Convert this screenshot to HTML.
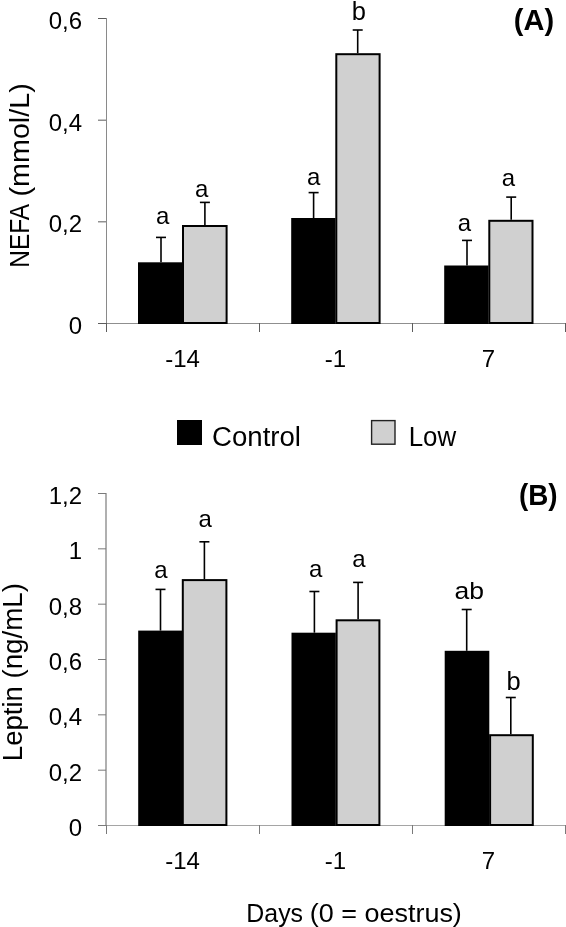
<!DOCTYPE html>
<html><head><meta charset="utf-8"><style>
html,body{margin:0;padding:0;background:#fff;}
svg{display:block;font-family:'Liberation Sans', sans-serif;will-change:transform;}
</style></head><body>
<svg width="566" height="927" viewBox="0 0 566 927" font-family="'Liberation Sans', sans-serif" fill="#000">
<rect width="566" height="927" fill="#fff"/>
<rect x="106" y="18" width="1" height="306" fill="#8a8a8a"/>
<rect x="98" y="323" width="468" height="1" fill="#8f8f8f"/>
<rect x="98" y="18.00" width="8" height="1" fill="#5c5c5c"/>
<text x="82" y="29.10" text-anchor="end" font-size="24">0,6</text>
<rect x="98" y="119.67" width="8" height="1" fill="#5c5c5c"/>
<text x="82" y="130.77" text-anchor="end" font-size="24">0,4</text>
<rect x="98" y="221.33" width="8" height="1" fill="#5c5c5c"/>
<text x="82" y="232.43" text-anchor="end" font-size="24">0,2</text>
<rect x="98" y="323.00" width="8" height="1" fill="#5c5c5c"/>
<text x="82" y="334.10" text-anchor="end" font-size="24">0</text>
<rect x="106" y="323" width="1" height="9" fill="#5c5c5c"/>
<rect x="259" y="323" width="1" height="9" fill="#5c5c5c"/>
<rect x="412" y="323" width="1" height="9" fill="#5c5c5c"/>
<rect x="565" y="323" width="1" height="9" fill="#5c5c5c"/>
<text x="182.5" y="366.70" text-anchor="middle" font-size="24">-14</text>
<text x="335.5" y="366.70" text-anchor="middle" font-size="24">-1</text>
<text x="488.5" y="366.70" text-anchor="middle" font-size="24">7</text>
<line x1="161.0" y1="262.3" x2="161.0" y2="237.4" stroke="#000" stroke-width="1.6"/>
<line x1="156.0" y1="237.4" x2="166.0" y2="237.4" stroke="#000" stroke-width="1.6"/>
<rect x="138" y="262.3" width="44" height="61.69999999999999" fill="#000"/>
<line x1="204.9" y1="225" x2="204.9" y2="202.4" stroke="#000" stroke-width="1.6"/>
<line x1="199.9" y1="202.4" x2="209.9" y2="202.4" stroke="#000" stroke-width="1.6"/>
<rect x="182" y="225" width="45.599999999999994" height="99" fill="#000"/>
<rect x="184" y="227" width="41.599999999999994" height="95" fill="#d0d0d0"/>
<line x1="313.6" y1="218" x2="313.6" y2="192.6" stroke="#000" stroke-width="1.6"/>
<line x1="308.6" y1="192.6" x2="318.6" y2="192.6" stroke="#000" stroke-width="1.6"/>
<rect x="291.2" y="218" width="44.30000000000001" height="106" fill="#000"/>
<line x1="357.7" y1="53.2" x2="357.7" y2="30.0" stroke="#000" stroke-width="1.6"/>
<line x1="352.7" y1="30.0" x2="362.7" y2="30.0" stroke="#000" stroke-width="1.6"/>
<rect x="335.3" y="53.2" width="45.30000000000001" height="270.8" fill="#000"/>
<rect x="337.3" y="55.2" width="41.30000000000001" height="266.8" fill="#d0d0d0"/>
<line x1="467.0" y1="265.5" x2="467.0" y2="240.4" stroke="#000" stroke-width="1.6"/>
<line x1="462.0" y1="240.4" x2="472.0" y2="240.4" stroke="#000" stroke-width="1.6"/>
<rect x="444.2" y="265.5" width="44.30000000000001" height="58.5" fill="#000"/>
<line x1="511.2" y1="219.8" x2="511.2" y2="197.1" stroke="#000" stroke-width="1.6"/>
<line x1="506.2" y1="197.1" x2="516.2" y2="197.1" stroke="#000" stroke-width="1.6"/>
<rect x="488.3" y="219.8" width="45.19999999999999" height="104.19999999999999" fill="#000"/>
<rect x="490.3" y="221.8" width="41.19999999999999" height="100.19999999999999" fill="#d0d0d0"/>
<text x="162.6" y="224.3" text-anchor="middle" font-size="24">a</text>
<text x="201.8" y="196.5" text-anchor="middle" font-size="24">a</text>
<text x="313.7" y="184.5" text-anchor="middle" font-size="24">a</text>
<text x="358.8" y="19.6" text-anchor="middle" font-size="25.5">b</text>
<text x="464.5" y="230.6" text-anchor="middle" font-size="24">a</text>
<text x="508.5" y="186.4" text-anchor="middle" font-size="24">a</text>
<text x="534" y="29.6" text-anchor="middle" font-size="29" font-weight="bold">(A)</text>
<g transform="translate(28.9,0) rotate(-90)">
<text x="-267.7" y="0" font-size="27" textLength="63.8" lengthAdjust="spacingAndGlyphs">NEFA</text>
<text x="-196.5" y="0" font-size="27" textLength="113.22" lengthAdjust="spacingAndGlyphs">(mmol/L)</text>
</g>

<rect x="177" y="420" width="25" height="25" fill="#000"/>
<text x="212" y="445.6" font-size="27" textLength="89" lengthAdjust="spacingAndGlyphs">Control</text>
<rect x="371.6" y="420.6" width="23.4" height="23.6" fill="#d0d0d0" stroke="#222" stroke-width="1.4"/>
<text x="408.7" y="445.6" font-size="27" textLength="47.5" lengthAdjust="spacingAndGlyphs">Low</text>
<text x="246.3" y="921.5" font-size="26.5" textLength="56.75" lengthAdjust="spacingAndGlyphs">Days</text>
<text x="309.8" y="921.5" font-size="26.5" textLength="152.06" lengthAdjust="spacingAndGlyphs">(0 = oestrus)</text>

<rect x="105" y="493" width="2" height="333" fill="#b0b0b0"/>
<rect x="98" y="825" width="468" height="1" fill="#a5a5a5"/>
<rect x="98" y="493.00" width="8" height="1" fill="#7a7a7a"/>
<text x="82" y="504.10" text-anchor="end" font-size="24">1,2</text>
<rect x="98" y="548.33" width="8" height="1" fill="#7a7a7a"/>
<text x="82" y="559.43" text-anchor="end" font-size="24">1</text>
<rect x="98" y="603.67" width="8" height="1" fill="#7a7a7a"/>
<text x="82" y="614.77" text-anchor="end" font-size="24">0,8</text>
<rect x="98" y="659.00" width="8" height="1" fill="#7a7a7a"/>
<text x="82" y="670.10" text-anchor="end" font-size="24">0,6</text>
<rect x="98" y="714.33" width="8" height="1" fill="#7a7a7a"/>
<text x="82" y="725.43" text-anchor="end" font-size="24">0,4</text>
<rect x="98" y="769.67" width="8" height="1" fill="#7a7a7a"/>
<text x="82" y="780.77" text-anchor="end" font-size="24">0,2</text>
<rect x="98" y="825.00" width="8" height="1" fill="#7a7a7a"/>
<text x="82" y="836.10" text-anchor="end" font-size="24">0</text>
<rect x="106" y="825" width="1" height="9" fill="#7a7a7a"/>
<rect x="259" y="825" width="1" height="9" fill="#7a7a7a"/>
<rect x="412" y="825" width="1" height="9" fill="#7a7a7a"/>
<rect x="565" y="825" width="1" height="9" fill="#7a7a7a"/>
<text x="182.5" y="868.70" text-anchor="middle" font-size="24">-14</text>
<text x="335.5" y="868.70" text-anchor="middle" font-size="24">-1</text>
<text x="488.5" y="868.70" text-anchor="middle" font-size="24">7</text>
<line x1="160.5" y1="630.6" x2="160.5" y2="589.4" stroke="#000" stroke-width="1.6"/>
<line x1="155.5" y1="589.4" x2="165.5" y2="589.4" stroke="#000" stroke-width="1.6"/>
<rect x="138.2" y="630.6" width="43.80000000000001" height="195.39999999999998" fill="#000"/>
<line x1="204.4" y1="579.1" x2="204.4" y2="541.8" stroke="#000" stroke-width="1.6"/>
<line x1="199.4" y1="541.8" x2="209.4" y2="541.8" stroke="#000" stroke-width="1.6"/>
<rect x="181.8" y="579.1" width="45.599999999999994" height="246.89999999999998" fill="#000"/>
<rect x="183.8" y="581.1" width="41.599999999999994" height="242.89999999999998" fill="#d0d0d0"/>
<line x1="314.4" y1="632.7" x2="314.4" y2="591.5" stroke="#000" stroke-width="1.6"/>
<line x1="309.4" y1="591.5" x2="319.4" y2="591.5" stroke="#000" stroke-width="1.6"/>
<rect x="291.5" y="632.7" width="44.30000000000001" height="193.29999999999995" fill="#000"/>
<line x1="358.1" y1="619.3" x2="358.1" y2="582.4" stroke="#000" stroke-width="1.6"/>
<line x1="353.1" y1="582.4" x2="363.1" y2="582.4" stroke="#000" stroke-width="1.6"/>
<rect x="335.6" y="619.3" width="44.799999999999955" height="206.70000000000005" fill="#000"/>
<rect x="337.6" y="621.3" width="40.799999999999955" height="202.70000000000005" fill="#d0d0d0"/>
<line x1="466.7" y1="650.8" x2="466.7" y2="609.5" stroke="#000" stroke-width="1.6"/>
<line x1="461.7" y1="609.5" x2="471.7" y2="609.5" stroke="#000" stroke-width="1.6"/>
<rect x="444.7" y="650.8" width="44.60000000000002" height="175.20000000000005" fill="#000"/>
<line x1="510.8" y1="734.2" x2="510.8" y2="697.5" stroke="#000" stroke-width="1.6"/>
<line x1="505.8" y1="697.5" x2="515.8" y2="697.5" stroke="#000" stroke-width="1.6"/>
<rect x="489.1" y="734.2" width="44.69999999999993" height="91.79999999999995" fill="#000"/>
<rect x="491.1" y="736.2" width="40.69999999999993" height="87.79999999999995" fill="#d0d0d0"/>
<text x="160.9" y="577.5" text-anchor="middle" font-size="24">a</text>
<text x="205.3" y="527.4" text-anchor="middle" font-size="24">a</text>
<text x="315.8" y="577.1" text-anchor="middle" font-size="24">a</text>
<text x="358.9" y="567.4" text-anchor="middle" font-size="24">a</text>
<text x="469.3" y="598.5" text-anchor="middle" font-size="24.5" textLength="29.5" lengthAdjust="spacingAndGlyphs">ab</text>
<text x="513.5" y="690.4" text-anchor="middle" font-size="25.5">b</text>
<text x="538.2" y="504.6" text-anchor="middle" font-size="29" font-weight="bold" textLength="38.6" lengthAdjust="spacingAndGlyphs">(B)</text>
<g transform="translate(21.5,0) rotate(-90)">
<text x="-761.2" y="0" font-size="27" textLength="75.16" lengthAdjust="spacingAndGlyphs">Leptin</text>
<text x="-678.6" y="0" font-size="27" textLength="95.65" lengthAdjust="spacingAndGlyphs">(ng/mL)</text>
</g>
</svg>
</body></html>
